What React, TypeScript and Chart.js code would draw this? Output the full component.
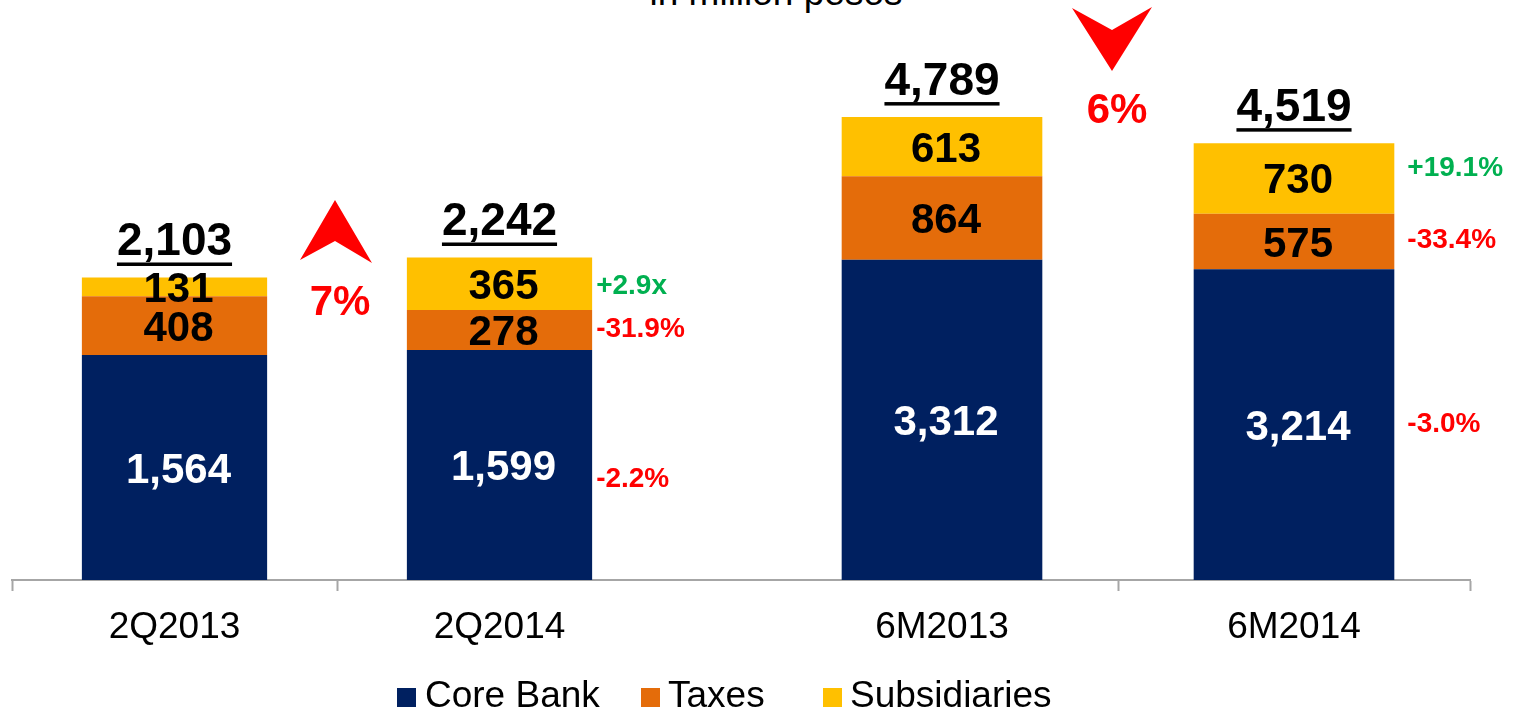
import React, { useEffect, useRef } from "react";
import { Chart, registerables } from "chart.js";

Chart.register(...registerables);

// ---------- data ----------
const seriesNames = ["Core Bank", "Taxes", "Subsidiaries"];

const quarterCategories = ["2Q2013", "2Q2014"];
const quarterCoreBank = [1564, 1599];
const quarterTaxes = [408, 278];
const quarterSubsidiaries = [131, 365];
const quarterTotals = [2103, 2242];
const quarterGrowth = ["-2.2%", "-31.9%", "+2.9x"]; // Core Bank, Taxes, Subsidiaries (2Q2014 vs 2Q2013)
const quarterChange = "7%";
const quarterDirection = "up";

const halfCategories = ["6M2013", "6M2014"];
const halfCoreBank = [3312, 3214];
const halfTaxes = [864, 575];
const halfSubsidiaries = [613, 730];
const halfTotals = [4789, 4519];
const halfGrowth = ["-3.0%", "-33.4%", "+19.1%"]; // Core Bank, Taxes, Subsidiaries (6M2014 vs 6M2013)
const halfChange = "6%";
const halfDirection = "down";

const titleText = "in million pesos";

// ---------- styles ----------
const FONT = "'Liberation Sans', Arial, sans-serif";
const NAVY = "#002060";
const ORANGE = "#E46C0A";
const YELLOW = "#FFC000";
const GREEN = "#00B050";
const RED = "#FF0000";
const AXIS = "#A6A6A6";
const seriesColors = [NAVY, ORANGE, YELLOW];

const fmt = (v: number) => v.toLocaleString("en-US");

type Setup = {
  categories: string[];
  series: number[][];
  totals: number[];
  growth: string[];
  change: string;
  direction: string;
  yMax: number;
  padding: { left: number; right: number; top: number; bottom: number };
  hideTick: (idx: number | undefined) => boolean;
  growthGap: number;
  growthNudge: number[];
  extendAxis: boolean;
};

const labelsPlugin = {
  id: "customLabels",
  afterDatasetsDraw(chart: any, _args: any, opts: any) {
    const setup: Setup = opts.setup;
    const ctx = chart.ctx as CanvasRenderingContext2D;
    const xs = chart.scales.x;
    const ys = chart.scales.y;
    ctx.save();

    // segment labels
    const SEG = 42;
    ctx.textAlign = "center";
    ctx.textBaseline = "alphabetic";
    chart.data.datasets.forEach((ds: any, di: number) => {
      const meta = chart.getDatasetMeta(di);
      meta.data.forEach((bar: any, i: number) => {
        const p = bar.getProps(["x", "y", "base"], true);
        const mid = (p.y + p.base) / 2;
        ctx.font = `bold ${SEG}px ${FONT}`;
        ctx.fillStyle = di === 0 ? "#FFFFFF" : "#000000";
        ctx.fillText(fmt(ds.data[i]), p.x + 4, mid + SEG * 0.358);
      });
    });

    // totals, underlined
    const TOT = 46;
    setup.totals.forEach((t, i) => {
      const x = xs.getPixelForValue(i);
      const top = ys.getPixelForValue(t);
      const baseline = top - 22;
      ctx.font = `bold ${TOT}px ${FONT}`;
      ctx.fillStyle = "#000000";
      ctx.textAlign = "center";
      ctx.fillText(fmt(t), x, baseline);
      const w = ctx.measureText(fmt(t)).width;
      ctx.fillRect(x - w / 2, baseline + 7, w, 3.5);
    });

    // growth labels next to the last bar
    const GR = 28;
    const last = setup.categories.length - 1;
    ctx.font = `bold ${GR}px ${FONT}`;
    ctx.textAlign = "left";
    setup.growth.forEach((g, di) => {
      const bar: any = chart.getDatasetMeta(di).data[last];
      const p = bar.getProps(["x", "y", "base", "width"], true);
      const mid = (p.y + p.base) / 2 + setup.growthNudge[di];
      ctx.fillStyle = g.startsWith("+") ? GREEN : RED;
      ctx.fillText(g, p.x + p.width / 2 + setup.growthGap, mid + GR * 0.358);
    });

    // change arrow and percent
    const cx = xs.getPixelForValue(0.5);
    ctx.fillStyle = RED;
    ctx.beginPath();
    if (setup.direction === "up") {
      ctx.moveTo(cx - 2, 200);
      ctx.lineTo(cx + 35, 263);
      ctx.lineTo(cx - 2, 241);
      ctx.lineTo(cx - 37, 260);
    } else {
      ctx.moveTo(cx - 46, 8);
      ctx.lineTo(cx - 6, 30);
      ctx.lineTo(cx + 34, 7);
      ctx.lineTo(cx - 6, 71);
    }
    ctx.closePath();
    ctx.fill();
    const CH = 42;
    ctx.font = `bold ${CH}px ${FONT}`;
    ctx.textAlign = "center";
    const cy = setup.direction === "up" ? 300 : 108;
    const dx = setup.direction === "up" ? 3 : -1;
    ctx.fillText(setup.change, cx + dx, cy + CH * 0.358);

    // extend axis line across the gap between the two panels
    if (setup.extendAxis) {
      ctx.fillStyle = AXIS;
      ctx.fillRect(chart.chartArea.right, Math.round(chart.chartArea.bottom) - 1, chart.width - chart.chartArea.right, 2);
    }
    ctx.restore();
  },
};

function Panel({ setup, left, width }: { setup: Setup; left: number; width: number }) {
  const ref = useRef<HTMLCanvasElement | null>(null);
  useEffect(() => {
    if (!ref.current) return;
    const chart = new Chart(ref.current, {
      type: "bar",
      data: {
        labels: setup.categories,
        datasets: setup.series.map((vals, i) => ({
          label: seriesNames[i],
          data: vals,
          backgroundColor: seriesColors[i],
          borderWidth: 0,
          barPercentage: 0.57,
          categoryPercentage: 1,
        })),
      },
      options: {
        animation: false,
        responsive: false,
        maintainAspectRatio: false,
        events: [],
        layout: { padding: setup.padding },
        plugins: {
          legend: { display: false },
          tooltip: { enabled: false },
          title: { display: false },
          customLabels: { setup },
        } as any,
        scales: {
          x: {
            stacked: true,
            offset: true,
            afterFit: (axis: any) => {
              axis.height = 135;
            },
            grid: {
              offset: true,
              drawOnChartArea: false,
              drawTicks: true,
              tickLength: 11,
              tickWidth: 2,
              tickColor: (c: any) => (setup.hideTick(c.index) ? "rgba(0,0,0,0)" : AXIS),
              color: AXIS,
            },
            border: { display: true, color: AXIS, width: 2 },
            ticks: {
              color: "#000000",
              padding: 15,
              font: { family: FONT, size: 37 },
              maxRotation: 0,
            },
          },
          y: {
            stacked: true,
            display: false,
            min: 0,
            max: setup.yMax,
          },
        },
      },
      plugins: [labelsPlugin as any],
    });
    return () => chart.destroy();
  }, []);
  return (
    <canvas
      ref={ref}
      width={width}
      height={715}
      style={{ position: "absolute", left, top: 0, width, height: 715 }}
    />
  );
}

const quarterSetup: Setup = {
  categories: quarterCategories,
  series: [quarterCoreBank, quarterTaxes, quarterSubsidiaries],
  totals: quarterTotals,
  growth: quarterGrowth,
  change: quarterChange,
  direction: quarterDirection,
  yMax: 4000,
  padding: { left: 12, right: 104, top: 4.6, bottom: 0 },
  hideTick: (idx) => idx === undefined,
  growthGap: 4,
  growthNudge: [12, -3, 0],
  extendAxis: true,
};

const halfSetup: Setup = {
  categories: halfCategories,
  series: [halfCoreBank, halfTaxes, halfSubsidiaries],
  totals: halfTotals,
  growth: halfGrowth,
  change: halfChange,
  direction: halfDirection,
  yMax: 6000,
  padding: { left: 0, right: 50, top: 0, bottom: 0 },
  hideTick: (idx) => idx === 0,
  growthGap: 13,
  growthNudge: [-3, -4, -12],
  extendAxis: false,
};

const legendItems = [
  { box: 397, text: 425 },
  { box: 641, text: 668 },
  { box: 823, text: 850 },
];

export default function App() {
  return (
    <div
      style={{
        position: "absolute",
        left: 0,
        top: 0,
        width: 1520,
        height: 715,
        overflow: "hidden",
        background: "#FFFFFF",
        fontFamily: FONT,
      }}
    >
      <div
        style={{
          position: "absolute",
          left: 0,
          width: 1552,
          top: -26,
          textAlign: "center",
          fontSize: 37,
          lineHeight: "37px",
          color: "#000000",
          whiteSpace: "nowrap",
        }}
      >
        {titleText}
      </div>
      <Panel setup={quarterSetup} left={0} width={766} />
      <Panel setup={halfSetup} left={766} width={754} />
      {seriesNames.map((name, i) => (
        <React.Fragment key={name}>
          <div
            style={{
              position: "absolute",
              left: legendItems[i].box,
              top: 688,
              width: 19,
              height: 19,
              background: seriesColors[i],
            }}
          />
          <div
            style={{
              position: "absolute",
              left: legendItems[i].text,
              top: 676,
              fontSize: 37,
              lineHeight: "37px",
              color: "#000000",
              whiteSpace: "nowrap",
            }}
          >
            {name}
          </div>
        </React.Fragment>
      ))}
    </div>
  );
}
